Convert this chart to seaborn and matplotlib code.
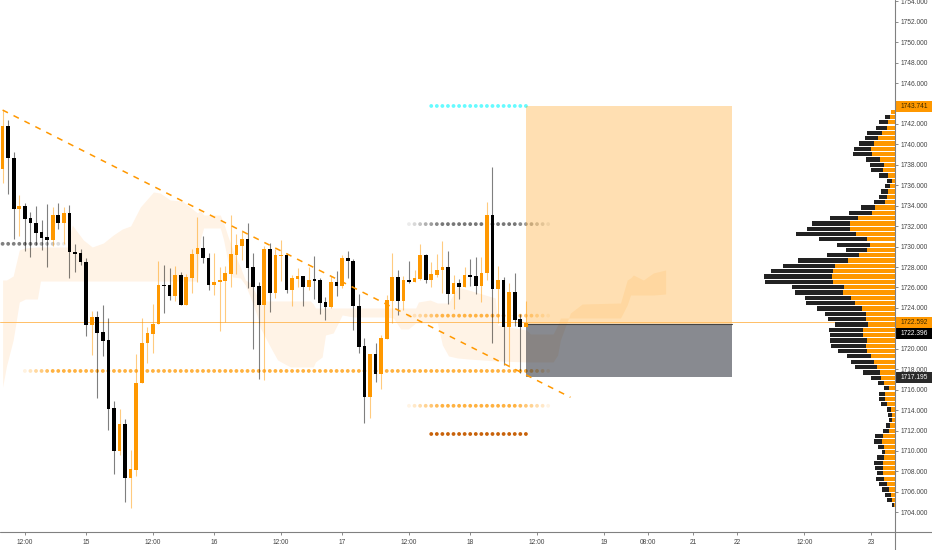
import numpy as np
import pandas as pd
import seaborn as sns
import matplotlib.pyplot as plt
from matplotlib.patches import Rectangle
from matplotlib.transforms import blended_transform_factory

# candles, one value per bar
highs = [1743.36,1742.38,1739.29,1735.05,1734.23,1733.4,1734.0,1732.57,1734.17,1733.84,1734.23,1733.84,1734.07,1730.22,1729.8,1728.85,
         1723.73,1723.73,1724.25,1722.98,1714.92,1714.07,1713.1,1710.09,1719.45,1722.98,1722.1,1724.38,1728.59,1728.23,1727.87,1728.1,
         1727.5,1727.3,1729.73,1732.93,1731.04,1729.34,1729.34,1728.03,1728.13,1733.06,1731.23,1731.62,1732.27,1729.34,1726.57,1730.09,
         1730.32,1729.73,1730.65,1729.34,1727.22,1727.87,1727.12,1728.04,1729.11,1726.9,1725.04,1727.12,1727.65,1729.18,1729.57,1728.82,
         1725.36,1721.02,1719.49,1720.54,1721.35,1725.26,1729.34,1727.71,1727.12,1728.59,1727.71,1730.25,1729.24,1728.46,1729.24,1730.52,
         1729.57,1727.22,1726.8,1728.04,1728.75,1728.95,1729.0,1734.4,1737.82,1728.13,1727.06,1726.4,1727.38,1723.4,1724.68]
lows = [1736.19,1735.14,1730.71,1731.03,1729.57,1729.0,1730.15,1729.66,1728.03,1730.06,1731.75,1730.25,1726.9,1727.5,1728.2,1721.25,
        1719.39,1715.2,1719.29,1712.02,1707.78,1709.57,1705.01,1704.45,1707.58,1716.62,1718.64,1719.55,1722.42,1723.53,1724.77,1724.71,
        1724.31,1724.31,1725.5,1726.57,1728.36,1725.75,1725.3,1721.77,1722.65,1726.08,1727.32,1728.69,1725.9,1719.95,1717.0,1716.94,
        1723.63,1724.94,1726.63,1725.49,1724.19,1726.0,1724.19,1725.75,1724.84,1723.41,1722.82,1723.96,1725.2,1725.92,1726.96,1721.84,
        1719.56,1712.77,1713.23,1716.75,1716.1,1720.96,1722.49,1723.31,1723.8,1726.47,1726.54,1726.73,1726.41,1726.08,1726.99,1725.49,
        1724.38,1723.89,1724.9,1726.0,1726.15,1725.33,1724.61,1726.73,1720.6,1722.49,1718.41,1718.25,1722.23,1717.66,1722.13]
body_tops = [1741.8,1741.8,1738.7,1733.97,1733.97,1732.76,1732.34,1731.43,1730.94,1733.09,1733.06,1733.25,1733.25,1729.5,1729.37,1728.52,
             1723.11,1723.11,1721.61,1720.82,1714.17,1712.6,1712.6,1708.24,1716.65,1720.56,1721.51,1722.46,1726.24,1726.27,1726.2,1727.25,
             1727.25,1727.02,1729.31,1729.83,1729.83,1728.88,1726.57,1726.7,1727.38,1729.24,1730.15,1730.71,1730.71,1727.97,1726.17,1729.79,
             1729.8,1729.18,1729.18,1729.18,1726.9,1727.12,1727.12,1726.73,1726.8,1726.7,1724.55,1726.57,1726.57,1728.88,1728.88,1728.62,
             1724.19,1720.24,1719.49,1719.49,1721.02,1724.78,1726.99,1726.99,1726.73,1726.73,1726.9,1729.18,1729.18,1727.32,1727.71,1728.04,
             1728.04,1726.41,1726.44,1727.22,1727.19,1727.12,1727.45,1733.12,1733.12,1726.73,1726.73,1725.55,1725.55,1722.88,1722.55]
body_bottoms = [1737.56,1738.63,1733.68,1733.68,1732.7,1732.27,1731.36,1730.87,1730.64,1730.64,1732.27,1732.27,1729.44,1729.3,1728.46,1722.33,
                1722.33,1721.58,1720.79,1714.11,1710.0,1710.0,1707.32,1707.32,1708.17,1716.62,1720.53,1721.44,1722.42,1726.14,1725.16,1725.16,
                1724.31,1724.31,1726.96,1729.27,1728.85,1726.24,1726.24,1726.53,1726.63,1727.32,1729.18,1730.09,1727.94,1726.08,1724.28,1724.28,
                1725.49,1725.49,1729.11,1725.75,1725.75,1726.83,1726.0,1726.0,1726.63,1724.51,1724.06,1724.06,1726.11,1726.15,1728.59,1724.19,
                1720.21,1715.28,1715.28,1717.53,1717.53,1720.96,1724.71,1724.68,1724.68,1726.54,1726.54,1726.8,1726.73,1726.73,1727.25,1727.71,
                1725.36,1725.36,1726.05,1726.05,1727.03,1726.18,1726.18,1727.42,1725.88,1725.85,1722.13,1722.13,1722.8,1722.13,1722.13]
is_up = [1,0,0,1,0,0,0,0,0,1,0,1,0,0,0,0,
         1,0,0,0,0,1,0,1,1,1,1,1,1,0,0,1,
         0,1,1,1,0,0,1,1,1,1,1,1,0,0,0,1,
         0,1,1,0,1,1,0,1,0,0,0,1,0,1,0,0,
         0,0,1,0,1,1,1,0,1,0,1,1,0,1,1,1,
         0,1,0,1,0,0,1,1,0,1,0,1,0,0,1]

# ichimoku style cloud
cloud_bars = [0,0.7,1.9,3,4.1,6.25,6.8,11.6,12.5,14.5,16.1,18.1,19.9,21.5,23,24.75,27.1,28.3,30.1,32.3,35,35.5,36.1,39.1,39.7,40.4,41.3,
              42.7,43.6,44.5,45.8,46.3,48.1,49.4,51.7,55.3,55.8,56.2,57.4,58,59.4,61,63,69.1,70.2,71.5,72.9,74.2,74.7,76.8,78.1,79,80.1,
              81.7,83.7,88.5,88.9,94.1,94.8,98.9,99.7,100.2,102,104.1,111,112.2,112.8,113.3,115.1,116.9,119.1]
span_a = [1726.73,1726.73,1727.12,1729.67,1729.87,1729.96,1729.96,1729.96,1732.11,1730.65,1729.96,1730.35,1731.14,1731.72,1732.02,1733.88,1735.34,1735.24,1734.56,1734.46,1733.29,1733.58,1733.09,1733.09,1732.31,1731.14,1729.77,
          1728.0,1726.73,1726.44,1725.07,1724.68,1724.68,1724.68,1724.68,1724.68,1724.38,1723.99,1723.99,1723.99,1723.99,1723.99,1723.99,1723.99,1723.99,1723.99,1723.99,1723.99,1724.58,1724.77,1724.48,1724.48,1724.48,
          1726.05,1725.75,1724.97,1722.33,1721.84,1721.45,1721.45,1722.33,1723.01,1723.01,1723.01,1723.01,1724.29,1725.26,1725.26,1725.26,1725.26,1725.36]
span_b = [1716.26,1718.32,1720.86,1724.58,1724.87,1724.87,1726.63,1726.63,1726.63,1726.63,1726.63,1726.63,1726.63,1726.63,1726.63,1726.63,1726.63,1726.63,1726.63,1726.63,1726.63,1730.65,1731.82,1731.82,1730.65,1728.69,1727.03,
          1726.93,1726.24,1725.07,1723.11,1722.04,1720.18,1718.9,1718.22,1718.22,1718.22,1718.71,1719.2,1721.35,1721.55,1723.31,1723.11,1723.11,1723.01,1721.94,1721.94,1722.53,1722.53,1722.53,1722.53,1720.37,1719.3,
          1719.1,1719.0,1718.81,1718.81,1718.71,1718.71,1718.71,1719.39,1720.86,1723.5,1724.38,1724.48,1726.73,1726.93,1727.22,1726.73,1727.42,1727.71]

# dotted levels: price, first bar, last bar
level_prices = [1743.76, 1730.27, 1732.2, 1723.24, 1717.83, 1714.42, 1711.66]
level_first = [77, 0, 73, 73, 4, 73, 77]
level_last = [94, 11, 98, 98, 98, 98, 94]
level_colors = ['#66fbff', '#555555', '#555555', '#ff9800', '#ff9800', '#ff9800', '#c8620a']

# volume profile
profile_prices = [1743.20,1742.68,1742.16,1741.64,1741.12,1740.60,1740.08,1739.56,1739.04,1738.52,1737.99,1737.47,1736.95,1736.43,1735.91,
                  1735.39,1734.87,1734.35,1733.83,1733.31,1732.79,1732.27,1731.75,1731.23,1730.71,1730.19,1729.67,1729.15,1728.63,1728.10,
                  1727.58,1727.06,1726.54,1726.02,1725.50,1724.98,1724.46,1723.94,1723.42,1722.90,1722.38,1721.86,1721.34,1720.82,1720.30,
                  1719.78,1719.26,1718.74,1718.21,1717.69,1717.17,1716.65,1716.13,1715.61,1715.09,1714.57,1714.05,1713.53,1713.01,1712.49,
                  1711.97,1711.45,1710.93,1710.41,1709.89,1709.37,1708.85,1708.33,1707.81,1707.28,1706.76,1706.24,1705.72,1705.20,1704.68]
profile_total = [12,28,47,55,83,89,108,123,126,87,74,70,46,23,28,41,48,61,101,137,195,247,262,296,228,174,145,202,291,336,371,393,389,308,300,
                 270,267,234,210,201,180,197,194,194,190,171,144,132,119,96,71,51,33,46,46,40,23,20,17,26,36,59,61,50,39,52,62,60,53,55,46,38,29,23,8]
profile_up = [12,15,19,22,38,49,62,71,67,43,32,34,20,8,14,20,22,30,59,69,111,133,133,116,84,75,84,108,139,179,186,188,186,151,154,
              131,118,99,87,86,79,96,94,84,86,84,72,62,52,44,40,31,18,29,29,23,11,8,8,14,16,35,38,32,28,31,36,36,35,31,23,17,12,7,2]

# position box and trend line
target_price = 1743.741
entry_price = 1722.43
stop_price = 1717.2
last_price = 1722.592
trend_bars = [0, 102]
trend_prices = [1743.36, 1715.25]

y_ticks = list(range(1704, 1756, 2))
hidden_ticks = [1722, 1744]  # sit behind the price tags
x_ticks = [4, 15, 27, 38, 50, 61, 73, 84, 96, 108, 116, 124, 132, 144, 156]
x_labels = ['12:00', '15', '12:00', '16', '12:00', '17', '12:00', '18', '12:00', '19', '08:00', '21', '22', '12:00', '23']

ORANGE = '#ff9800'
W, H = 932, 550
AX_W, AX_H = 894.7, 532.3
XLIM = (-0.467, 160.25)
YLIM = (1702.04, 1754.13)
FS = 4.8

sns.set_theme(style='white')
plt.rcParams['font.family'] = ['Liberation Sans', 'DejaVu Sans']

fig = plt.figure(figsize=(W / 100, H / 100), dpi=100)
rect = [0, 1 - AX_H / H, AX_W / W, AX_H / H]
ax = fig.add_axes(rect)

ax.fill_between(cloud_bars, span_a, span_b, color='#fff3e6', linewidth=0, zorder=1)

# dotted levels, ends fade out
fades = [(0, 0), (0, 6), (6, 6), (6, 6), (5, 4), (6, 6), (0, 0)]
peaks = [1, 0.75, 0.8, 0.7, 0.75, 0.75, 1]
for price, first, last, col, (fi, fo), pk in zip(level_prices, level_first, level_last, level_colors, fades, peaks):
    xs = np.arange(first, last + 1)
    sns.scatterplot(x=xs, y=[price] * len(xs), color=col, s=7.5, linewidth=0, marker='o', legend=False, ax=ax, zorder=2)
    alphas = np.full(len(xs), pk, dtype=float)
    for k in range(fi):
        alphas[k] = pk * (k + 1) / (fi + 1)
    for k in range(fo):
        alphas[-k - 1] = pk * (k + 1) / (fo + 1)
    ax.collections[-1].set_alpha(alphas)

# long position box
box_left, box_right = 94.1, 131.1
ax.add_patch(Rectangle((box_left, entry_price), box_right - box_left, target_price - entry_price,
                       facecolor=ORANGE, alpha=0.3, linewidth=0, zorder=3))
ax.add_patch(Rectangle((box_left, stop_price), box_right - box_left, entry_price - stop_price,
                       facecolor='#131722', alpha=0.5, linewidth=0, zorder=3))
ax.plot([box_left, box_right], [entry_price, entry_price], color='#444444', lw=0.8, zorder=3)

ax.axhline(last_price, color='#ffbe66', lw=0.7, zorder=3)

# candles
candles = pd.DataFrame({'bar': range(len(highs)), 'high': highs, 'low': lows, 'top': body_tops, 'bottom': body_bottoms, 'up': is_up})
for up, col, wick_alpha in [(1, ORANGE, 0.5), (0, '#000000', 0.5)]:
    part = candles[candles.up == up]
    ax.vlines(part.bar, part.low, part.high, color=col, lw=0.8, alpha=wick_alpha, zorder=4)
    ax.bar(part.bar, part.top - part.bottom, bottom=part.bottom, width=0.66, color=col, linewidth=0, zorder=5)

sns.lineplot(x=trend_bars, y=trend_prices, color=ORANGE, lw=1.1, ax=ax, zorder=6)
ax.lines[-1].set_linestyle((0, (3.9, 4.1)))

ax.set_xlim(XLIM)
ax.set_ylim(YLIM)
ax.set_xticks(x_ticks)
ax.set_xticklabels(x_labels)
ax.set_yticks(y_ticks)
ax.set_yticklabels(['' if v in hidden_ticks else f'{v}.000' for v in y_ticks])
ax.yaxis.tick_right()
ax.tick_params(axis='x', length=2, width=0.6, color='#777777', labelsize=FS, labelcolor='#444444', pad=2.6, bottom=True)
ax.tick_params(axis='y', length=2.2, width=0.6, color='#777777', labelsize=FS, labelcolor='#444444', pad=2.2, right=True)
ax.set_xlabel('')
ax.set_ylabel('')
ax.grid(False)
for side in ['left', 'top', 'right', 'bottom']:
    ax.spines[side].set_visible(False)

# price axis tags
trans = blended_transform_factory(ax.transAxes, ax.transData)
tag_w = (W - AX_W) / AX_W
tag_x = 1 + 6 / AX_W
tags = [('1743.741', 1743.741, ORANGE, '#3a2a00'),
        ('1722.592', 1722.592, ORANGE, '#3a2a00'),
        ('1722.396', 1721.47, '#000000', '#ffffff'),
        ('1717.195', 1717.18, '#2a2a2a', '#ffffff')]
for label, y, bg, fg in tags:
    ax.add_patch(Rectangle((1, y - 0.55), tag_w, 1.1, transform=trans, facecolor=bg, linewidth=0, clip_on=False, zorder=7))
    ax.text(tag_x, y, label, transform=trans, color=fg, fontsize=FS, va='center', ha='left', clip_on=False, zorder=8)

# volume profile grows leftwards from the price axis
ax2 = fig.add_axes(rect)
sns.barplot(x=profile_total, y=profile_prices, orient='y', native_scale=True, color='#222222', saturation=1, linewidth=0, width=0.8, ax=ax2)
sns.barplot(x=profile_up, y=profile_prices, orient='y', native_scale=True, color=ORANGE, saturation=1, linewidth=0, width=0.8, ax=ax2)
ax2.set_xlim(AX_W * 3, 0)
ax2.set_ylim(YLIM)
ax2.axis('off')
ax2.patch.set_visible(False)

# axis lines run through to the edges of the picture
fig.add_artist(plt.Line2D([0, 1], [1 - AX_H / H] * 2, color='#808080', lw=0.8))
fig.add_artist(plt.Line2D([AX_W / W] * 2, [0, 1], color='#808080', lw=0.8))

fig.savefig('out.png', dpi=100, facecolor='white')
